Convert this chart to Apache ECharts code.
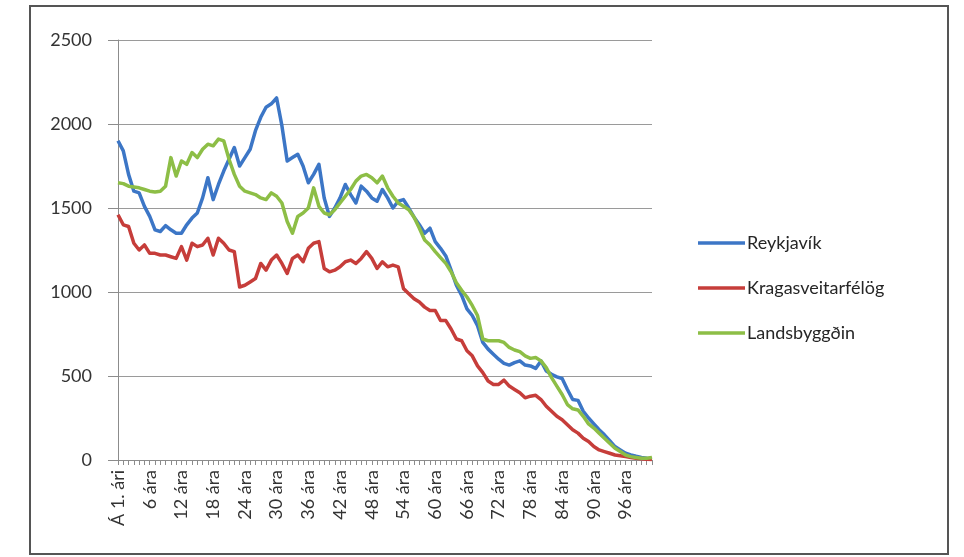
<!DOCTYPE html>
<html>
<head>
<meta charset="utf-8">
<script src="https://cdn.jsdelivr.net/npm/echarts@6/dist/echarts.min.js"></script>
<style>
  html, body { margin: 0; padding: 0; background: #ffffff; }
  #frame { position: absolute; left: 29px; top: 5px; width: 916px; height: 546px; border: 2px solid #555; }
  #chart { position: absolute; left: 0; top: 0; width: 964px; height: 557px; }
</style>
</head>
<body>
<div id="frame"></div>
<div id="chart"></div>
<script>
// Age groups: first year of life, then 1..101 years
const ages = [];
for (let a = 0; a <= 101; a++) {
  ages.push(a === 0 ? 'Á 1. ári' : (a === 1 ? '1 árs' : a + ' ára'));
}

const seriesNames = ['Reykjavík', 'Kragasveitarfélög', 'Landsbyggðin'];

const reykjavik = [
  1900, 1840, 1700, 1600, 1590, 1510, 1450, 1370, 1360, 1395,
  1370, 1350, 1350, 1400, 1440, 1470, 1560, 1680, 1550, 1640,
  1720, 1790, 1860, 1750, 1800, 1850, 1960, 2040, 2100, 2120,
  2155, 1990, 1780, 1800, 1820, 1750, 1650, 1700, 1760, 1560,
  1450, 1500, 1560, 1640, 1580, 1530, 1630, 1600, 1560, 1540,
  1610, 1560, 1500, 1540, 1550, 1500, 1445, 1400, 1350, 1380,
  1300, 1260, 1215, 1130, 1040, 980, 900, 860, 800, 700,
  660, 630, 600, 575, 565, 580, 590, 565, 560, 545,
  590, 530, 510, 495, 485, 420, 360, 355, 290, 250,
  215, 180, 150, 115, 80, 60, 40, 30, 22, 15,
  10, 8
];

const kragi = [
  1460, 1400, 1390, 1290, 1250, 1280, 1230, 1230, 1220, 1220,
  1210, 1200, 1270, 1190, 1290, 1270, 1280, 1320, 1220, 1320,
  1290, 1250, 1240, 1030, 1040, 1060, 1080, 1170, 1130, 1190,
  1220, 1170, 1110, 1200, 1220, 1180, 1260, 1290, 1300, 1140,
  1120, 1130, 1150, 1180, 1190, 1170, 1200, 1240, 1200, 1140,
  1180, 1150, 1160, 1150, 1020, 990, 960, 940, 910, 890,
  890, 830, 830, 780, 720, 710, 650, 620, 560, 520,
  470, 450, 450, 475, 440, 420, 400, 370, 380, 385,
  360, 320, 290, 260, 240, 210, 180, 160, 130, 110,
  80, 60, 50, 40, 30, 25, 20, 15, 10, 8,
  5, 3
];

const landsbyggdin = [
  1650, 1645, 1630, 1625, 1620, 1610, 1600, 1595, 1600, 1630,
  1800, 1690, 1780, 1760, 1830, 1800, 1850, 1880, 1870, 1910,
  1900, 1790, 1700, 1630, 1600, 1590, 1580, 1560, 1550, 1590,
  1570, 1530, 1420, 1350, 1450, 1470, 1500, 1620, 1510, 1470,
  1460, 1490, 1530, 1570, 1610, 1660, 1690, 1700, 1680, 1650,
  1690, 1620, 1570, 1530, 1510, 1490, 1445, 1380, 1310, 1280,
  1240, 1205, 1170, 1120, 1055, 1010, 970, 920, 860, 720,
  710, 710, 710, 700, 670, 655, 645, 620, 605, 610,
  590, 550, 490, 440, 390, 330, 305, 298, 260, 215,
  190, 160, 130, 100, 70, 50, 30, 20, 15, 10,
  10, 15
];

const yTicks = { min: 0, max: 2500, interval: 500 };

const colors = ['#3c76c6', '#c63d3a', '#8dbe46'];
const fontFamily = 'Lato, "Open Sans", sans-serif';

const chart = echarts.init(document.getElementById('chart'), null, { renderer: 'canvas' });

function lineSeries(name, data, color) {
  return {
    name: name,
    type: 'line',
    data: data,
    symbol: 'none',
    smooth: false,
    lineStyle: { width: 3.5, color: color, join: 'round' },
    itemStyle: { color: color }
  };
}

chart.setOption({
  animation: false,
  textStyle: { fontFamily: fontFamily },
  grid: { left: 118, right: 312, top: 40, bottom: 97, containLabel: false },
  legend: {
    orient: 'vertical',
    left: 693,
    top: 229,
    itemWidth: 47,
    itemHeight: 14,
    itemGap: 27,
    data: seriesNames.map((n, i) => ({
      name: n,
      icon: 'path://M0,0 L47,0 L47,3.5 L0,3.5 Z',
      itemStyle: { color: colors[i] }
    })),
    textStyle: { fontFamily: fontFamily, fontSize: 18, color: '#262626', padding: [0, 0, 0, -3] }
  },
  xAxis: {
    type: 'category',
    data: ages,
    boundaryGap: false,
    axisLine: { lineStyle: { color: '#8c8c8c', width: 1 } },
    axisTick: { show: true, interval: 0, length: 5, lineStyle: { color: '#8c8c8c' } },
    axisLabel: {
      interval: 5,
      rotate: 90,
      margin: 10,
      fontSize: 18,
      color: '#333333',
      fontFamily: fontFamily
    },
    splitLine: { show: false }
  },
  yAxis: {
    type: 'value',
    min: yTicks.min,
    max: yTicks.max,
    interval: yTicks.interval,
    axisLine: { show: true, lineStyle: { color: '#8c8c8c', width: 1 } },
    axisTick: { show: true, length: 10, lineStyle: { color: '#8c8c8c' } },
    axisLabel: {
      margin: 26,
      fontSize: 18,
      color: '#333333',
      fontFamily: fontFamily,
      formatter: (v) => String(v)
    },
    splitLine: { show: true, lineStyle: { color: '#9a9a9a', width: 1.2 } }
  },
  series: [
    lineSeries(seriesNames[0], reykjavik, colors[0]),
    lineSeries(seriesNames[1], kragi, colors[1]),
    lineSeries(seriesNames[2], landsbyggdin, colors[2])
  ]
});
</script>
</body>
</html>
